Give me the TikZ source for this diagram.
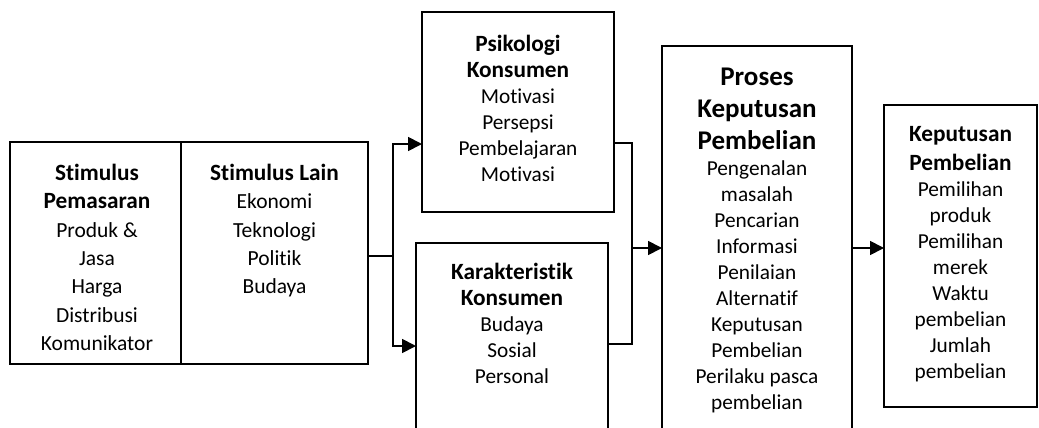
\documentclass[tikz,border=0pt]{standalone}
\usepackage{fontspec}
\setmainfont{Carlito}[Ligatures=NoCommon]
\usepackage{tikz}
\usetikzlibrary{arrows.meta, positioning}

\tikzset{
  kotak/.style={draw, line width=1.8pt, inner sep=0pt, outer sep=0pt},
  teks/.style={anchor=north, align=flush center, inner sep=0pt, text width=#1,
    font=\fontsize{21.3}{26}\selectfont},
  teksKiri/.style={teks=#1, font=\fontsize{21.5}{28.3}\selectfont},
  garis/.style={line width=1.8pt},
  >={Triangle[length=14pt,width=14pt]}
}
\newcommand{\judul}[2][26]{{\fontsize{23.3}{#1}\selectfont\bfseries #2\par}}
\newcommand{\judulBesar}[1]{{\fontsize{27}{32}\selectfont\bfseries #1\par}}

\begin{document}
\begin{tikzpicture}[x=1pt, y=-1pt]
        % Bidang gambar (piksel referensi)
        \clip (0,0) rectangle (1039,428);

        % Kotak stimulus
        \node[kotak, minimum width=171pt, minimum height=222pt] (sp) at (95.5,253) {};
        \node[kotak, minimum width=187pt, minimum height=222pt] (sl) at (274.5,253) {};
        \node[teksKiri=165pt] (sptxt) at (97,164) {\judul[28.3]{Stimulus\\Pemasaran}Produk \&\\Jasa\\Harga\\Distribusi\\Komunikator};
        \node[teksKiri=180pt] (sltxt) at (274.5,164) {\judul[28.3]{Stimulus Lain}Ekonomi\\Teknologi\\Politik\\Budaya};

        % Kotak konsumen
        \node[kotak, minimum width=192pt, minimum height=200pt] (psi) at (518,112) {};
        \node[kotak, minimum width=192pt, minimum height=197pt] (kar) at (512,341.5) {};
        \node[teks=185pt] (psitxt) at (518,35) {\judul{Psikologi\\Konsumen}Motivasi\\Persepsi\\Pembelajaran\\Motivasi};
        \node[teks=185pt] (kartxt) at (512,263) {\judul{Karakteristik\\Konsumen}Budaya\\Sosial\\Personal};

        % Proses keputusan dan keputusan pembelian
        \node[kotak, minimum width=190pt, minimum height=394pt] (pro) at (757,243) {};
        \node[kotak, minimum width=153pt, minimum height=302pt] (kep) at (960.5,256) {};
        \node[teks=185pt] (protxt) at (757,68) {\judulBesar{Proses\\Keputusan\\Pembelian}Pengenalan\\masalah\\Pencarian\\Informasi\\Penilaian\\Alternatif\\Keputusan\\Pembelian\\Perilaku pasca\\pembelian};
        \node[teks=148pt] (keptxt) at (960.5,126) {\judul[29]{Keputusan\\Pembelian}Pemilihan\\produk\\Pemilihan\\merek\\Waktu\\pembelian\\Jumlah\\pembelian};

        % Titik percabangan dan penggabungan
        \coordinate (pisah) at (393,256);
        \coordinate (atas) at (393,144);
        \coordinate (bawah) at (393,346);
        \coordinate (gabAtas) at (632,143);
        \coordinate (gabBawah) at (632,344);
        \coordinate (gab) at (632,248);

        % Panah
        \draw[garis] (sl.east |- pisah) -- (pisah);
        \draw[garis, ->] (pisah) -- (atas) -- (atas -| psi.west);
        \draw[garis, ->] (pisah) -- (bawah) -- (bawah -| kar.west);
        \draw[garis] (gabAtas -| psi.east) -- (gabAtas) -- (gabBawah) -- (gabBawah -| kar.east);
        \draw[garis, ->] (gab) -- (gab -| pro.west);
        \draw[garis, ->] (pro.east |- gab) -- (kep.west |- gab);
\end{tikzpicture}
\end{document}
